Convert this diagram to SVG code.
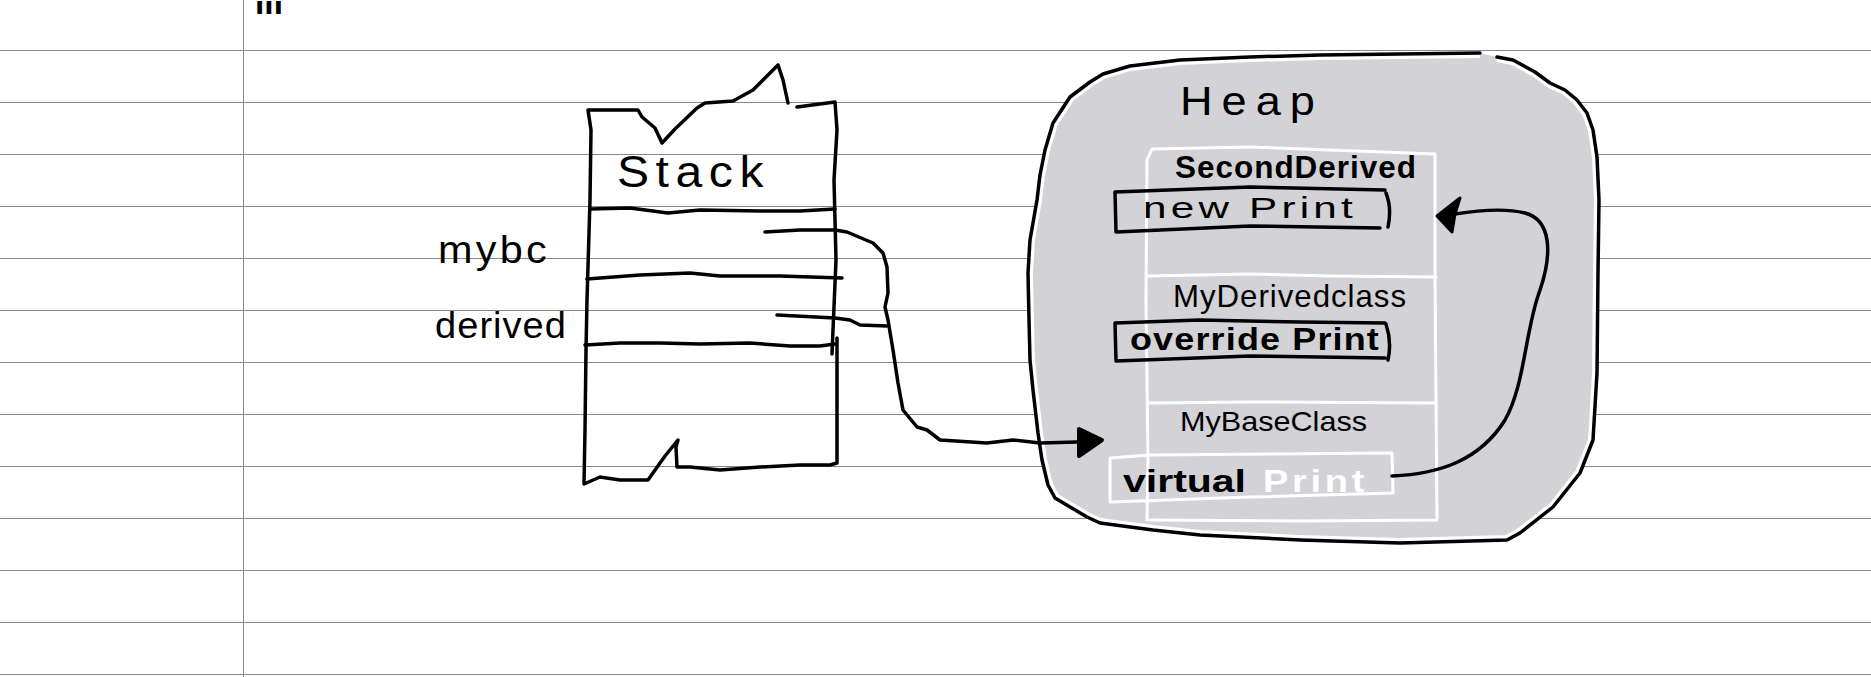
<svg xmlns="http://www.w3.org/2000/svg" width="1871" height="677" viewBox="0 0 1871 677">
<defs>
<style>
.rule{stroke:#888;stroke-width:1;fill:none}
.ink{stroke:#000;stroke-width:3.5;fill:none;stroke-linecap:round;stroke-linejoin:round}
.chalk{stroke:#fff;stroke-width:3;fill:none;stroke-linecap:round;stroke-linejoin:round}
.hand{font-family:"Liberation Sans","DejaVu Sans",sans-serif;fill:#000}
</style>
<clipPath id="heapClip"><path d="M1497,57 L1513,60 L1535,72 L1550,83 L1565,90 L1577,100 L1587,113 L1593,130 L1597,157 L1599,200 L1598,273 L1597,373 L1593,440 L1580,473 L1553,507 L1520,533 L1507,540 L1400,543 L1300,540 L1200,535 L1153,530 L1100,523 L1087,517 L1065,504 L1055,498 L1048,485 L1042,460 L1038,433 L1033,390 L1030,360 L1029,320 L1028,273 L1030,240 L1037,200 L1040,175 L1045,150 L1053,123 L1070,97 L1090,82 L1103,74 L1130,66 L1180,60 L1250,57 L1320,55 L1400,54 L1480,53 Z"/></clipPath>
</defs>
<rect width="1871" height="677" fill="#fff"/>
<g id="paper">
<path class="rule" d="M0,50.5H1871M0,102.5H1871M0,154.5H1871M0,206.5H1871M0,258.5H1871M0,310.5H1871M0,362.5H1871M0,414.5H1871M0,466.5H1871M0,518.5H1871M0,570.5H1871M0,622.5H1871M0,674.5H1871M243.5,0V677"/>
<text class="hand" x="255" y="14" font-size="18" font-weight="bold" textLength="28" lengthAdjust="spacingAndGlyphs">lll</text>
</g>
<g id="stack">
<path class="ink" d="M788,103 L783,80 L778,65 L753,90 L733,101 L705,103 L697,108 L675,129 L662,143 L655,128 L642,117 L638,110 L588,110 L591,130 L590,200 L587,300 L586,350 L585,430 L584,484 L600,477 L620,480 L648,480 L665,456 L678,440 L676,447 L677,467 L690,467 L720,470 L760,467 L800,465 L830,465 L837,463 L837,400 L837,338"/>
<path class="ink" d="M797,107 L835,102 L837,130 L834,180 L836,260 L833,330 L832,354"/>
<path class="ink" d="M590,209 L630,208 L668,213 L700,210 L760,211 L800,211 L835,209"/>
<path class="ink" d="M587,279 L640,275 L690,273 L720,276 L780,276 L842,278"/>
<path class="ink" d="M585,345 L620,343 L660,343 L700,344 L750,343 L790,346 L820,346 L835,344"/>
<text class="hand" x="617" y="187" font-size="44" letter-spacing="6" textLength="153" lengthAdjust="spacingAndGlyphs">Stack</text>
</g>
<g id="mybc">
<text class="hand" x="438" y="263" font-size="38" letter-spacing="3" textLength="112" lengthAdjust="spacingAndGlyphs">mybc</text>
</g>
<g id="derived">
<text class="hand" x="435" y="338" font-size="37" letter-spacing="1" textLength="132" lengthAdjust="spacingAndGlyphs">derived</text>
</g>
<g id="heap">
<path d="M1497,57 L1513,60 L1535,72 L1550,83 L1565,90 L1577,100 L1587,113 L1593,130 L1597,157 L1599,200 L1598,273 L1597,373 L1593,440 L1580,473 L1553,507 L1520,533 L1507,540 L1400,543 L1300,540 L1200,535 L1153,530 L1100,523 L1087,517 L1065,504 L1055,498 L1048,485 L1042,460 L1038,433 L1033,390 L1030,360 L1029,320 L1028,273 L1030,240 L1037,200 L1040,175 L1045,150 L1053,123 L1070,97 L1090,82 L1103,74 L1130,66 L1180,60 L1250,57 L1320,55 L1400,54 L1480,53 Z" fill="#d3d2d6"/>
<path clip-path="url(#heapClip)" d="M1497,57 L1513,60 L1535,72 L1550,83 L1565,90 L1577,100 L1587,113 L1593,130 L1597,157 L1599,200 L1598,273 L1597,373 L1593,440 L1580,473 L1553,507 L1520,533 L1507,540 L1400,543 L1300,540 L1200,535 L1153,530 L1100,523 L1087,517 L1065,504 L1055,498 L1048,485 L1042,460 L1038,433 L1033,390 L1030,360 L1029,320 L1028,273 L1030,240 L1037,200 L1040,175 L1045,150 L1053,123 L1070,97 L1090,82 L1103,74 L1130,66 L1180,60 L1250,57 L1320,55 L1400,54 L1480,53" fill="none" stroke="#fff" stroke-width="10" stroke-linejoin="round"/>
<path class="ink" d="M1497,57 L1513,60 L1535,72 L1550,83 L1565,90 L1577,100 L1587,113 L1593,130 L1597,157 L1599,200 L1598,273 L1597,373 L1593,440 L1580,473 L1553,507 L1520,533 L1507,540 L1400,543 L1300,540 L1200,535 L1153,530 L1100,523 L1087,517 L1065,504 L1055,498 L1048,485 L1042,460 L1038,433 L1033,390 L1030,360 L1029,320 L1028,273 L1030,240 L1037,200 L1040,175 L1045,150 L1053,123 L1070,97 L1090,82 L1103,74 L1130,66 L1180,60 L1250,57 L1320,55 L1400,54 L1480,53"/>
<text class="hand" x="1180" y="115" font-size="40" letter-spacing="8" textLength="144" lengthAdjust="spacingAndGlyphs">Heap</text>
</g>
<g id="objectBox">
<path class="chalk" d="M1147,520 L1148,460 L1146,300 L1147,160 L1152,149 L1250,147 L1330,150 L1435,154 L1435,273 L1436,400 L1437,520 L1300,521 L1150,520"/>
<path class="chalk" d="M1147,276 L1250,274 L1330,276 L1436,277"/>
<path class="chalk" d="M1147,403 L1250,402 L1436,403"/>
</g>
<g id="secondDerived">
<text class="hand" x="1175" y="178" font-size="32" font-weight="bold" letter-spacing="1" textLength="242" lengthAdjust="spacingAndGlyphs">SecondDerived</text>
<path class="ink" d="M1115,192 L1250,187 L1385,190 M1386,193 Q1392,208 1388,227 M1115,192 L1116,232 L1250,226 L1380,228"/>
<text class="hand" x="1143" y="218" font-size="30" letter-spacing="3" textLength="214" lengthAdjust="spacingAndGlyphs">new Print</text>
</g>
<g id="myDerivedClass">
<text class="hand" x="1173" y="307" font-size="32" letter-spacing="1" textLength="234" lengthAdjust="spacingAndGlyphs">MyDerivedclass</text>
<path class="ink" d="M1115,323 L1200,320 L1300,322 L1385,323 M1386,324 Q1392,342 1388,360 M1115,323 L1116,361 L1250,356 L1385,358"/>
<text class="hand" x="1130" y="350" font-size="31" font-weight="bold" letter-spacing="1" textLength="250" lengthAdjust="spacingAndGlyphs">override Print</text>
</g>
<g id="myBaseClass">
<text class="hand" x="1180" y="431" font-size="28" textLength="187" lengthAdjust="spacingAndGlyphs">MyBaseClass</text>
<path class="chalk" d="M1110,458 L1150,455 L1392,453 L1393,493 L1250,497 L1110,502 Z"/>
<text class="hand" x="1123" y="492" font-size="31" font-weight="bold" textLength="123" lengthAdjust="spacingAndGlyphs">virtual</text>
<text class="hand" x="1263" y="492" font-size="31" font-weight="bold" style="fill:#fff" letter-spacing="3" textLength="105" lengthAdjust="spacingAndGlyphs">Print</text>
</g>
<g id="connectors">
<path class="ink" d="M765,232 L800,230 L835,230 L847,232 L873,243 L883,253 L887,267 L888,293 L885,307 L888,320 L893,350 L898,383 L903,410 L917,427 L927,430 L940,440 L987,443 L1013,440 L1040,443 L1077,442"/>
<path class="ink" d="M777,315 L835,318 L850,320 L860,325 L887,326"/>
<polygon points="1079,429 1102,440 1079,456" fill="#000" stroke="#000" stroke-width="4" stroke-linejoin="round"/>
<path class="ink" d="M1392,476 C1440,474 1480,460 1505,420 C1525,385 1525,330 1540,290 C1552,255 1552,220 1525,213 C1505,208 1480,210 1455,214"/>
<polygon points="1437,216 1460,198 1455,214 1452,232" fill="#000" stroke="#000" stroke-width="3" stroke-linejoin="round"/>
</g>
</svg>
